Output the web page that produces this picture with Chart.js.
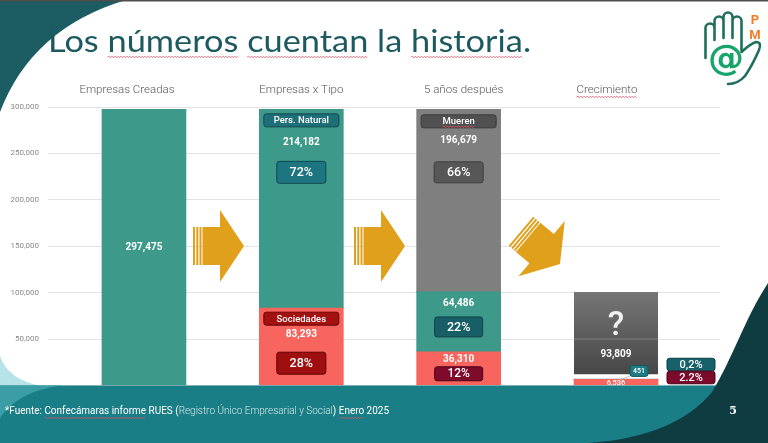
<!DOCTYPE html>
<html><head><meta charset="utf-8">
<script src="https://cdn.jsdelivr.net/npm/chart.js@4.4.1/dist/chart.umd.min.js"></script>
<style>html,body{margin:0;padding:0;background:#fff;overflow:hidden}#wrap{position:relative;width:768px;height:443px}</style>
</head><body><div id="wrap"><canvas id="c" width="768" height="443"></canvas></div>
<script>
// ---- data ----
const categories = ['Empresas Creadas', 'Empresas x Tipo', '5 años después', 'Crecimiento'];
const seriesNames = ['Sociedades', 'Pers. Natural', 'Mueren'];
const sociedades = [null, 83293, 36310, 6536];
const naturales  = [297475, 214182, 64486, 451];
const mueren     = [null, null, 196679, 93809];
const pctSociedades = [null, '28%', '12%', '2.2%'];
const pctNaturales  = [null, '72%', '22%', '0,2%'];
const pctMueren     = [null, null, '66%', null];
const yTickStep = 50000, yMax = 300000;
const title = 'Los números cuentan la historia.';
const footnote = ['*Fuente: ', 'Confecámaras informe', ' RUES (', 'Registro Único Empresarial y Social', ') ', 'Enero', ' 2025'];

const fmt = v => v.toLocaleString('en-US');
const F = 'Roboto, "Noto Sans", sans-serif';

function txt(c, s, x, y, font, color, align, maxW) {
  c.save(); c.font = font; c.fillStyle = color; c.textBaseline = 'middle'; c.textAlign = align || 'center';
  const w = c.measureText(s).width;
  if (maxW && w > 0) { c.translate(x, y); c.scale(maxW / w, 1); c.fillText(s, 0, 0); }
  else c.fillText(s, x, y);
  c.restore();
}
function box(c, cx, cy, w, h, fill, stroke, label, font) {
  c.save(); c.beginPath(); c.roundRect(cx - w / 2, cy - h / 2, w, h, 2.5);
  c.fillStyle = fill; c.fill(); c.lineWidth = 1; c.strokeStyle = stroke; c.stroke(); c.restore();
  txt(c, label, cx, cy + 0.5, font, '#ffffff');
}
function wavy(c, x1, x2, y) {
  c.save(); c.strokeStyle = '#e0506a'; c.lineWidth = 0.8; c.beginPath(); c.moveTo(x1, y);
  let up = true; for (let x = x1 + 1.5; x <= x2; x += 1.5) { c.lineTo(x, y + (up ? -0.8 : 0.8)); up = !up; }
  c.stroke(); c.restore();
}
function arrow(c, tx, ty, ang) {
  c.save(); c.translate(tx, ty); c.rotate(ang); c.fillStyle = '#e0a01c';
  c.beginPath(); c.moveTo(0, 0); c.lineTo(-24, -36); c.lineTo(-24, -19); c.lineTo(-41.5, -19);
  c.lineTo(-41.5, 19); c.lineTo(-24, 19); c.lineTo(-24, 36); c.closePath(); c.fill();
  c.fillRect(-51, -19, 2, 38); c.fillRect(-47.7, -19, 2, 38); c.fillRect(-44.5, -19, 2, 38);
  c.restore();
}

const bgPlugin = {
  id: 'bg',
  beforeDraw(chart) {
    const c = chart.ctx; c.save();
    c.fillStyle = '#ffffff'; c.fillRect(0, 0, 768, 443);
    c.fillStyle = '#1b5d62';
    c.beginPath(); c.moveTo(0, 0); c.lineTo(126, 0); c.quadraticCurveTo(32, 28, 0, 112); c.closePath(); c.fill();
    c.fillStyle = '#4d4d4d'; c.fillRect(0, 0, 768, 1.5);
    c.fillStyle = '#b6e3e7';
    c.beginPath(); c.moveTo(0, 356); c.quadraticCurveTo(8, 380, 42, 386); c.lineTo(0, 386); c.closePath(); c.fill();
    c.restore();
  }
};

const fgPlugin = {
  id: 'fg',
  afterDatasetsDraw(chart) {
    const c = chart.ctx, xs = chart.scales.x, ys = chart.scales.y;
    const X = i => xs.getPixelForValue(i), Y = v => ys.getPixelForValue(v);
    c.save(); c.strokeStyle = 'rgba(255,255,255,0.22)'; c.lineWidth = 1;
    c.beginPath(); c.moveTo(X(3) - 42, Y(50000)); c.lineTo(X(3) + 42, Y(50000)); c.stroke(); c.restore();

    const NUM = 'bold 10px ' + F;
    const cum = categories.map((_, i) => {
      const s0 = sociedades[i] || 0, s1 = s0 + (naturales[i] || 0), s2 = s1 + (mueren[i] || 0);
      return [s0, s1, s2];
    });
    // bar 1
    txt(c, fmt(naturales[0]), X(0), Y(cum[0][1] / 2), NUM, '#ffffff');
    // bar 2
    let top = Y(cum[1][1]), b = Y(cum[1][0]);
    box(c, X(1), top + 11, 75, 13, '#1e6f78', '#114a52', seriesNames[1], '500 9.5px ' + F);
    txt(c, fmt(naturales[1]), X(1), top + 33, NUM, '#ffffff');
    box(c, X(1), top + 63, 49, 22, '#1c7581', '#0d4a52', pctNaturales[1], '500 12.5px ' + F);
    box(c, X(1), b + 10.5, 75, 13, '#a31111', '#6a0505', seriesNames[0], '500 9.5px ' + F);
    txt(c, fmt(sociedades[1]), X(1), b + 26, NUM, '#ffffff');
    box(c, X(1), b + 55, 49, 22, '#a00f0f', '#5e0000', pctSociedades[1], '500 12.5px ' + F);
    // bar 3
    top = Y(cum[2][2]); let t = Y(cum[2][1]); b = Y(cum[2][0]);
    box(c, X(2), top + 12, 75, 13, '#515151', '#3a3a3a', seriesNames[2], '500 9.5px ' + F);
    c.save(); c.font = '500 9.5px ' + F; const mw = c.measureText(seriesNames[2]).width; c.restore();
    wavy(c, X(2) - mw / 2, X(2) + mw / 2, top + 17.5);
    txt(c, fmt(mueren[2]), X(2), top + 31, NUM, '#ffffff');
    box(c, X(2), top + 63, 49, 21, '#575757', '#3e3e3e', pctMueren[2], '500 12.5px ' + F);
    txt(c, fmt(naturales[2]), X(2), t + 12, NUM, '#ffffff');
    box(c, X(2), t + 35, 48, 20, '#185e66', '#0e4249', pctNaturales[2], '500 12.5px ' + F);
    txt(c, fmt(sociedades[2]), X(2), b + 8, NUM, '#ffffff');
    box(c, X(2), b + 22, 48, 14, '#7e0b2c', '#4f0018', pctSociedades[2], '500 12px ' + F);
    // bar 4
    const g = Y(cum[3][2]);
    txt(c, '?', X(3), g + 35, '500 34px ' + F, '#f0f0f0');
    txt(c, fmt(mueren[3]), X(3), g + 63, NUM, '#ffffff');
    c.save(); c.strokeStyle = '#b0b0b0'; c.lineWidth = 0.8; c.beginPath();
    c.moveTo(X(3) + 14, g + 84); c.lineTo(X(3) + 2, g + 89); c.stroke(); c.restore();
    box(c, X(3) + 23, g + 79, 18, 11, '#1d7b84', '#125960', fmt(naturales[3]), '500 7px ' + F);
    txt(c, fmt(sociedades[3]), X(3), Y(cum[3][0]) + 4, '500 7.5px ' + F, '#ffffff');
    box(c, X(3) + 75, 364.5, 48, 12.5, '#17616a', '#0d3e44', pctNaturales[3], '500 11px ' + F);
    box(c, X(3) + 75, 377.5, 48, 12.5, '#7c0b2b', '#4a0018', pctSociedades[3], '500 11px ' + F);

    arrow(c, 244, 246, 0);
    arrow(c, 405, 246, 0);
    arrow(c, 560, 264, 40 * Math.PI / 180);
  },
  afterDraw(chart) {
    const c = chart.ctx, xs = chart.scales.x;
    c.save();
    const off = [-17, 0, 5, -9];
    categories.forEach((s, i) => {
      const x = xs.getPixelForValue(i) + off[i];
      txt(c, s, x, 90, '300 11.5px ' + F, '#555555');
      if (i === 3) { c.font = '300 11.5px ' + F; const w = c.measureText(s).width; wavy(c, x - w / 2, x + w / 2, 97); }
    });
    c.fillStyle = '#1a7e86'; c.fillRect(0, 385.5, 768, 58);
    c.fillStyle = '#3a9ea4';
    c.beginPath(); c.moveTo(0, 385.5); c.lineTo(62, 385.5); c.quadraticCurveTo(18, 391, 0, 418); c.closePath(); c.fill();
    c.fillStyle = '#0f3c41';
    c.beginPath(); c.moveTo(768, 283); c.bezierCurveTo(745, 318, 732, 360, 712, 392);
    c.quadraticCurveTo(675, 437, 588, 443); c.lineTo(768, 443); c.closePath(); c.fill();
    const fFont = '10.5px ' + F, fLight = '300 10.5px ' + F;
    let total = 0;
    footnote.forEach((s, i) => { c.font = i === 3 ? fLight : fFont; total += c.measureText(s).width; });
    const k = 384 / total; let x = 5;
    footnote.forEach((s, i) => {
      c.font = i === 3 ? fLight : fFont; const w = c.measureText(s).width * k;
      txt(c, s, x, 411, c.font, i === 3 ? '#d4e7e8' : '#ffffff', 'left', w);
      if (i === 1 || i === 5) wavy(c, x, x + w, 418);
      x += w;
    });
    txt(c, '5', 733, 411, 'bold 11px "DejaVu Serif", serif', '#ffffff');
    c.font = '400 31px Lato, ' + F;
    const tw = c.measureText(title).width, tk = 483 / tw;
    txt(c, title, 48, 42, c.font, '#1c5a5f', 'left', 483);
    ['números', 'cuentan', 'historia'].forEach(wd => {
      const idx = title.indexOf(wd);
      const x0 = 48 + c.measureText(title.slice(0, idx)).width * tk;
      const x1 = x0 + c.measureText(wd).width * tk;
      wavy(c, x0, x1, 57);
    });
    c.strokeStyle = '#1f6f5c'; c.lineWidth = 2.6; c.lineCap = 'round'; c.lineJoin = 'round';
    c.beginPath();
    c.moveTo(705.5, 58); c.lineTo(705.5, 28); c.arc(710, 28, 4.5, Math.PI, 0); c.lineTo(714.5, 40);
    c.moveTo(714.5, 30); c.lineTo(714.5, 21); c.arc(719, 21, 4.5, Math.PI, 0); c.lineTo(723.5, 38);
    c.moveTo(723.5, 21); c.lineTo(723.5, 17); c.arc(728, 17, 4.5, Math.PI, 0); c.lineTo(732.5, 38);
    c.moveTo(732.5, 21); c.arc(737, 21, 4.5, Math.PI, 0); c.lineTo(741.5, 52);
    c.quadraticCurveTo(750, 44, 756, 42); c.quadraticCurveTo(762, 42, 759, 50);
    c.quadraticCurveTo(752, 66, 745, 76); c.quadraticCurveTo(738, 84, 728, 84);
    c.stroke();
    c.fillStyle = '#ffffff'; c.beginPath(); c.arc(726, 63, 16, 0, Math.PI * 2); c.fill();
    txt(c, '@', 726, 61, 'bold 36px "DejaVu Sans", sans-serif', '#18a56c');
    txt(c, 'P', 755, 21, 'bold 13px ' + F, '#f07e26');
    txt(c, 'M', 755, 36, 'bold 13px ' + F, '#f07e26');
    c.restore();
  }
};

const pts = arr => arr.map((v, i) => ({ x: i, y: v }));
const growthGray = ctx => {
  const ch = ctx.chart;
  if (ctx.dataIndex !== 3 || !ch.chartArea) return '#7f7f7f';
  const ys = ch.scales.y;
  const top = ys.getPixelForValue((sociedades[3] || 0) + naturales[3] + mueren[3]);
  const bot = ys.getPixelForValue((sociedades[3] || 0) + naturales[3]);
  const gr = ch.ctx.createLinearGradient(0, top, 0, bot);
  gr.addColorStop(0, '#767676'); gr.addColorStop(1, '#444444');
  return gr;
};

new Chart(document.getElementById('c'), {
  type: 'bar',
  data: {
    datasets: [
      { label: seriesNames[0], data: pts(sociedades), backgroundColor: '#f7655e', barThickness: 84 },
      { label: seriesNames[1], data: pts(naturales), backgroundColor: '#3d9989', barThickness: 84 },
      { label: seriesNames[2], data: pts(mueren), backgroundColor: growthGray, barThickness: 84,
        borderColor: '#ffffff', borderSkipped: false,
        borderWidth: ctx => ctx.dataIndex === 3 ? { top: 0, left: 0, right: 0, bottom: 5 } : 0 }
    ]
  },
  options: {
    responsive: false, animation: false, devicePixelRatio: 1,
    layout: { padding: { left: 0, right: 48, top: 107, bottom: 57.5 } },
    plugins: { legend: { display: false }, tooltip: { enabled: false } },
    scales: {
      x: { type: 'linear', min: -0.61, max: 3.661, stacked: true, display: false, offset: false },
      y: {
        stacked: true, min: 0, max: yMax,
        afterFit: s => { s.width = 48; },
        grid: { color: '#e3e3e3', drawTicks: false, lineWidth: 1 },
        border: { display: false },
        ticks: { stepSize: yTickStep, padding: 9, color: '#8a8a8a', font: { family: 'Roboto', size: 8 },
          callback: v => v === 0 ? '' : fmt(v) }
      }
    }
  },
  plugins: [bgPlugin, fgPlugin]
});
</script></body></html>
